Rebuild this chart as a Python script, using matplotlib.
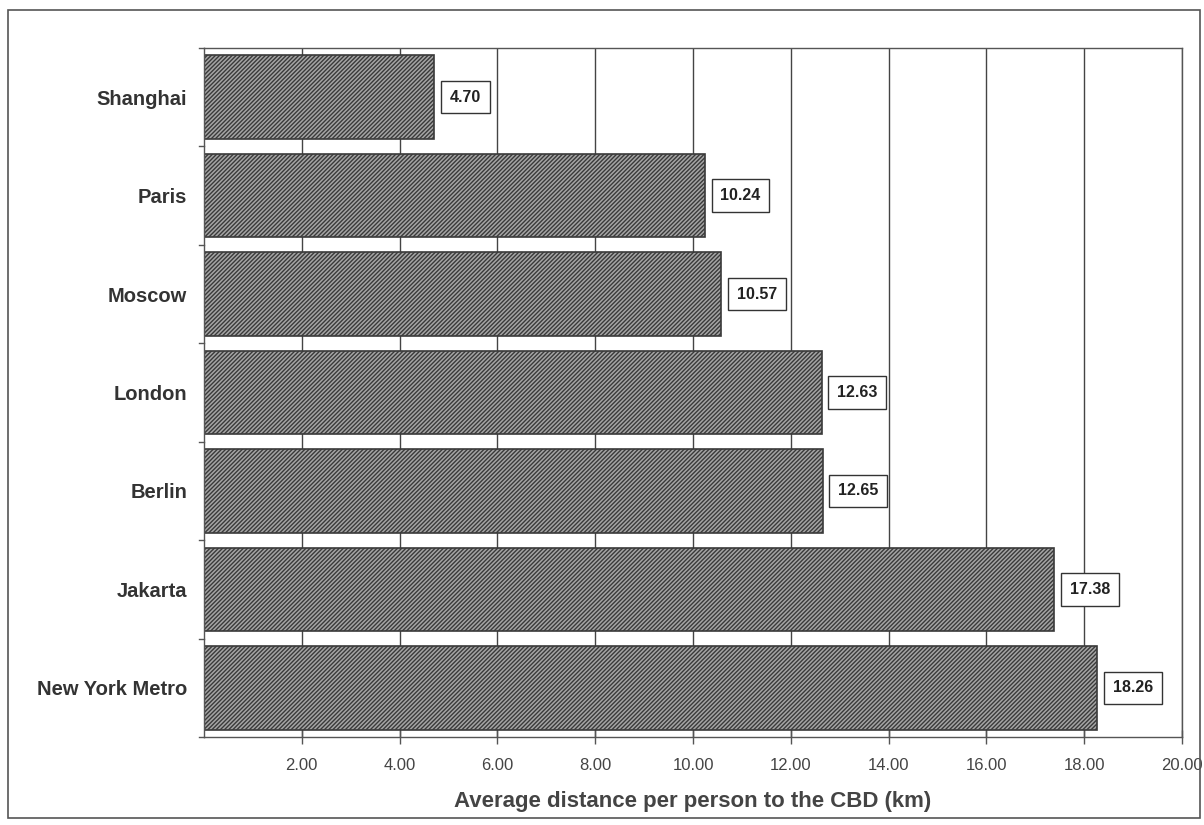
import matplotlib.pyplot as plt
import matplotlib.patches as mpatches

plt.rcParams['font.family'] = ['Liberation Sans', 'DejaVu Sans']
plt.rcParams['hatch.linewidth'] = 1.0
plt.rcParams['hatch.color'] = '#2a2a2a'

# data, top to bottom as in the picture
cities = ['Shanghai', 'Paris', 'Moscow', 'London', 'Berlin', 'Jakarta', 'New York Metro']
distance = [4.70, 10.24, 10.57, 12.63, 12.65, 17.38, 18.26]
x_ticks = [2, 4, 6, 8, 10, 12, 14, 16, 18, 20]
x_tick_labels = ['2.00', '4.00', '6.00', '8.00', '10.00', '12.00', '14.00', '16.00', '18.00', '20.00']

fig = plt.figure(figsize=(12.04, 8.25), dpi=100)
ax = fig.add_axes([204 / 1204, 1 - 737 / 825, (1182 - 204) / 1204, (737 - 48) / 825])

# outer frame round the whole chart
fig.patches.append(mpatches.Rectangle((8 / 1204, 1 - 818 / 825), 1192 / 1204, 808 / 825,
                                      transform=fig.transFigure, fill=False,
                                      edgecolor='#555555', linewidth=1.2))

pos = list(range(len(cities)))
ax.barh(pos, distance, height=0.85, color='#a5a5a5', edgecolor='#3a3a3a',
        hatch='////////', linewidth=1.2, zorder=2)

for y, v in zip(pos, distance):
    ax.text(v + 0.32, y, f'{v:.2f}', ha='left', va='center', fontsize=11.5,
            fontweight='bold', color='#222222', zorder=3,
            bbox=dict(boxstyle='square,pad=0.55', facecolor='white',
                      edgecolor='#333333', linewidth=1.0))

ax.set_xlim(0, 20)
ax.set_ylim(len(cities) - 0.5, -0.5)
ax.set_xticks(x_ticks)
ax.set_xticklabels(x_tick_labels, fontsize=12, color='#444444')
ax.set_yticks(pos)
ax.set_yticklabels(cities, fontsize=14.5, fontweight='bold', color='#333333')
ax.tick_params(axis='y', length=0, pad=12)
ax.tick_params(axis='x', direction='inout', length=10, width=1.0, color='#555555', pad=10)

# category boundary ticks on the y axis
for b in range(len(cities) + 1):
    ax.plot([-0.1, 0], [b - 0.5, b - 0.5], color='#555555', lw=1.0, clip_on=False, zorder=4)

ax.grid(axis='x', color='#444444', linewidth=1.0, zorder=0)
ax.set_axisbelow(True)
for side in ['left', 'bottom', 'top', 'right']:
    ax.spines[side].set_color('#555555')
    ax.spines[side].set_linewidth(1.0)

ax.set_xlabel('Average distance per person to the CBD (km)', fontsize=16,
              fontweight='bold', color='#444444', labelpad=13)

fig.savefig('out.png', dpi=100)
